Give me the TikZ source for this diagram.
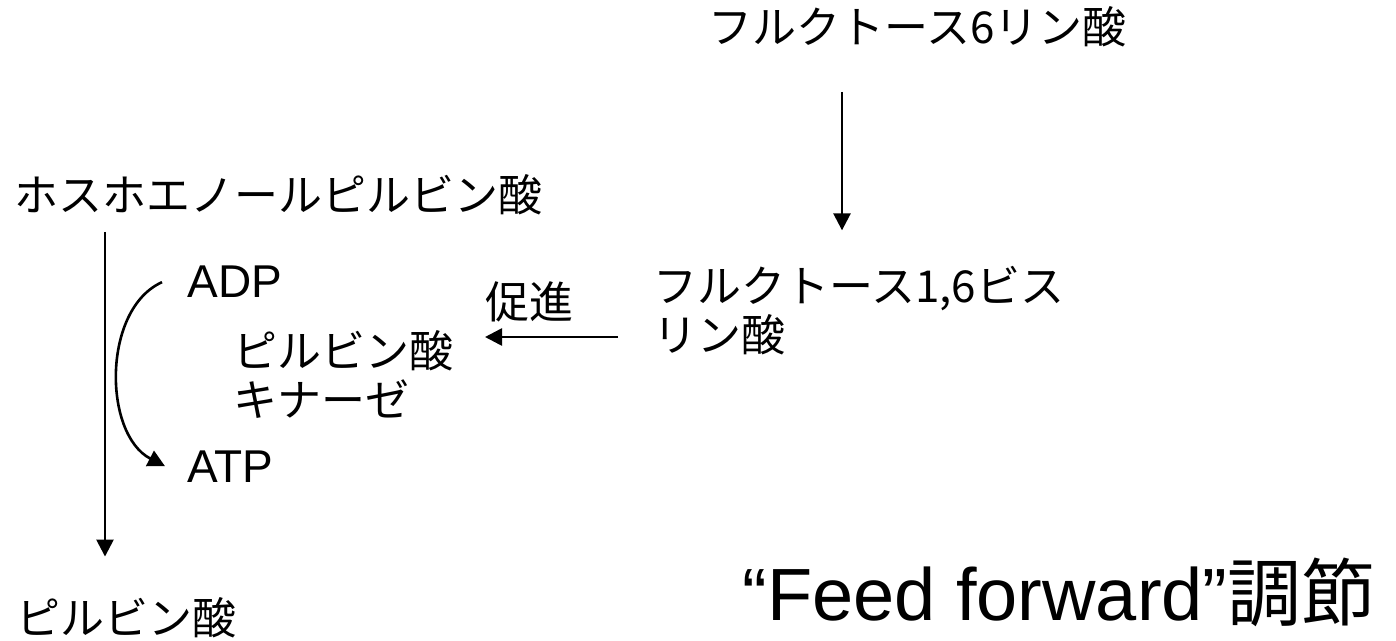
\documentclass[tikz,border=0pt]{standalone}
\usepackage{fontspec}
\setmainfont{Liberation Sans}
\newfontfamily\jpf{Noto Sans CJK JP}
\usetikzlibrary{arrows.meta}
\tikzset{
  jp/.style  ={font=\jpf\fontsize{22}{24.5}\selectfont,inner sep=0pt,anchor=base west,align=left},
  lat/.style ={font=\fontsize{23}{27}\selectfont,inner sep=0pt,anchor=base west},
  ttl/.style ={font=\fontsize{37}{40}\selectfont,inner sep=0pt,anchor=base west},
  ar/.style  ={-{Triangle[length=8.5pt,width=8.5pt]},line width=1.3pt},
}
\begin{document}
\begin{tikzpicture}[x=0.5pt,y=-0.5pt]
\useasboundingbox (0,0) rectangle (1396,641);

% ---- glycolysis, upper part ----------------------------------------------
\node[jp] (f6p) at (708,44) {フルクトース6リン酸};
\node[jp] (fbp) at (653,351) {フルクトース1,6ビス\\リン酸};
\coordinate (colF) at (842,0);
\draw[ar] ([yshift=-22pt]f6p.south -| colF) -- ([yshift=17.5pt]fbp.north -| colF);

% ---- pyruvate kinase step ------------------------------------------------
\node[jp] (pep) at (14,212) {ホスホエノールピルビン酸};
\node[jp] (pyr) at (16,634) {ピルビン酸};
\coordinate (colP) at (105,0);
\draw[ar] ([yshift=-8pt]pep.south -| colP) -- ([yshift=20pt]pyr.north -| colP);

\node[lat] (adp) at (187,298) {ADP};
\node[jp] (pk) at (233,416) {ピルビン酸\\キナーゼ};
\node[lat] (atp) at (187,482) {ATP};
\draw[ar] ([xshift=-12.5pt]adp.west) .. controls +(-30pt,-13.5pt) and +(-31pt,16pt) .. ([xshift=-11pt]atp.west);

% ---- activation ----------------------------------------------------------
\node[jp] (prom) at (485,319) {促進};
\coordinate (promtip) at ([yshift=-7pt]prom.south west);
\draw[ar] ([xshift=-17.5pt]fbp.west |- promtip) -- (promtip);

\node[ttl] (ff) at (742,620) {“Feed forward”{\jpf 調節}};
\end{tikzpicture}
\end{document}
